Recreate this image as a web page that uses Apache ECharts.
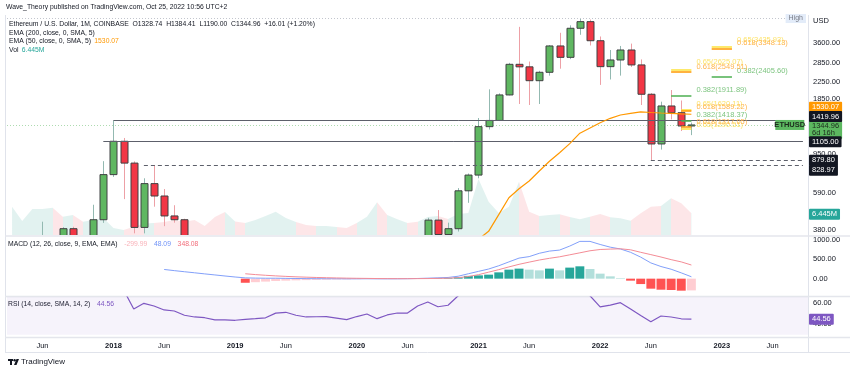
<!DOCTYPE html>
<html><head><meta charset="utf-8">
<script src="https://cdn.jsdelivr.net/npm/echarts@6/dist/echarts.min.js"></script>
<style>html,body{margin:0;padding:0;background:#fff}#c{width:850px;height:371px}</style>
</head><body><div id="c"></div>
<script>
// ---------- data (monthly, Mar 2017 .. Oct 2022) ----------
const months = [];
for (let i = 0; i < 79; i++) { const t = 2 + i; const y = 2017 + Math.floor(t / 12); const m = t % 12 + 1; months.push(y + '-' + (m < 10 ? '0' : '') + m); }
const lastCat = months[months.length - 1];

const open = [16.0,50.0,79.5,230.0,293.0,200.0,386.0,302.0,305.0,430.0,
 740.0,1105.0,850.0,392.0,664.0,572.0,450.0,430.0,282.0,232.0,
 198.0,113.0,131.0,107.0,136.0,141.0,163.0,269.0,291.0,218.0,
 172.0,180.0,183.0,152.0,130.0,180.0,218.0,133.0,206.0,231.0,
 226.0,345.0,428.0,360.0,386.0,609.0,736.0,1318.0,1420.0,1930.0,
 2790.0,2707.0,2291.0,2535.0,3480.0,3035.0,4305.0,4663.0,3706.0,2713.0,
 2940.0,3315.0,2770.0,1946.0,1070.0,1690.0,1559.0,1328.74];
const high = [55.0,80.0,230.0,420.0,300.0,393.0,395.0,350.0,515.0,870.0,
 1419.96,1150.0,868.0,708.0,831.0,622.0,512.0,435.0,300.0,233.0,
 225.0,160.0,160.0,166.0,146.0,184.0,280.0,350.0,320.0,240.0,
 225.0,198.0,195.0,153.0,185.0,290.0,253.0,227.0,245.0,255.0,
 347.0,440.0,483.0,415.0,629.0,750.0,1462.0,2065.0,1968.0,2840.0,
 4380.0,2885.0,2580.0,3520.0,4078.0,4460.0,4870.0,4780.0,3900.0,3315.0,
 3480.0,3580.0,2960.0,1975.0,1780.0,2048.0,1805.0,1384.41];
const low = [15.5,46.0,76.0,153.0,130.0,185.0,200.0,284.0,285.0,414.0,
 720.0,551.0,365.0,365.0,503.0,398.0,415.0,250.0,167.0,188.0,
 103.0,82.0,101.0,102.0,129.0,139.0,157.0,230.0,190.0,166.0,
 153.0,152.0,137.0,117.0,127.0,179.0,90.0,127.0,176.0,216.0,
 225.0,335.0,308.0,335.0,373.0,527.0,708.0,1273.0,1410.0,1920.0,
 1731.0,1710.0,1731.0,2435.0,2647.0,2970.0,3980.0,3500.0,2178.0,2325.0,
 2435.0,2700.0,1710.0,879.8,1000.0,1438.0,1250.0,1190.0];
const close = [50.0,79.5,230.0,293.0,200.0,386.0,302.0,305.0,430.0,740.0,
 1105.0,850.0,392.0,664.0,572.0,450.0,430.0,282.0,232.0,198.0,
 113.0,131.0,107.0,136.0,141.0,163.0,269.0,291.0,218.0,172.0,
 180.0,183.0,152.0,130.0,180.0,218.0,133.0,206.0,231.0,226.0,
 345.0,428.0,360.0,386.0,609.0,736.0,1318.0,1420.0,1930.0,2790.0,
 2707.0,2291.0,2535.0,3480.0,3035.0,4305.0,4663.0,3706.0,2713.0,2940.0,
 3315.0,2770.0,1946.0,1070.0,1690.0,1559.0,1328.74,1344.96];
const volume = [8.41,4.16,7.72,7.72,8.11,5.44,5.94,3.95,4.46,5.05,
 2.08,1.49,2.47,3.42,3.56,3.86,4.46,3.95,4.46,2.67,
 5.35,6.83,4.01,3.56,4.46,5.64,6.92,5.05,3.86,2.97,
 2.67,2.67,2.38,2.08,3.56,5.44,9.71,5.94,4.66,3.56,
 3.95,5.35,5.64,4.75,6.24,6.53,16.63,9.89,6.53,8.41,
 15.83,6.92,5.64,5.94,6.15,5.35,4.66,5.44,6.24,5.26,
 4.96,4.25,6.44,8.41,8.61,10.90,9.41,6.445];
const N = null;
const ema50 = [N,N,N,N,N,N,N,N,N,N, N,N,N,N,N,N,N,N,N,N, N,N,N,N,N,N,N,N,N,N, N,N,N,N,N,N,N,N,N,N,
 240,255,268,280,300,318,340,374,457,560,
 624,685,773,869,963,1074,1218,1297,1382,1457,
 1516,1547,1576,1563,1553,1547,1538,1530.07];
const macd = [N,N,N,N,N,N,N,N,N,N,N,N,N,N,N,
 235,205,177,150,122,95,68,42,20,14,
 11,11,7,4,1,-1,-2,-3,-5,-4,
 -3,-5,-5,-4,-1.5,4,12,21,30,62,
 125,186,246,330,428,525,563,648,704,730,
 832,952,952,873,804,758,673,550,402,310,
 241,148,48.09];
const signal = [N,N,N,N,N,N,N,N,N,N,N,N,N,N,N,N,N,N,N,N,N,N,N,
 125,104,
 86,71,58,47,38,30,24,18,13,9,
 6,3,1,0,0,1,3,7,12,25,
 55,102,166,230,300,366,422,476,520,558,
 609,660,712,745,755,763,737,673,614,553,
 486,428,348.08];
const hist = [N,N,N,N,N,N,N,N,N,N,N,N,N,N,N,N,N,N,N,N,N,N,N,
 -105,-90,
 -75,-60,-51,-43,-37,-31,-26,-21,-18,-13,
 -9,-8,-6,-4,-1.5,3,9,14,18,37,
 70,84,102,161,230,256,230,212,256,212,
 282,315,246,128,59,15,-51,-138,-256,-282,
 -290,-307,-299.99];
const rsi = [92,94,96,95,88,90,85,84,86,89,
 90,72,54.1,59.4,56.9,53.2,52.2,48.2,46.6,45.9,
 43.8,43.8,43.5,44.4,45.0,45.8,50.2,51.0,48.2,46.6,
 46.8,46.9,45.5,44.1,47.0,49.4,45.0,48.5,50.3,50.3,
 56.9,60.7,56.2,57.6,66.5,72,80,80,84,87,
 85,80,81,84,80,84,85,66.5,56,57.8,
 60,54.1,48,42.2,47.5,46.6,44.9,44.56];
const priceTicks = [380, 590, 950, 1850, 2250, 2850, 3600];
const macdTicks = [0, 500, 1000];
const rsiTicks = [40, 60];

// ---------- styles ----------
const F = '"Liberation Sans", Arial, sans-serif';
const TXT = '#131722';
const UP = '#5fb761', DN = '#f23645', BORDER = '#3f4142', UPW = '#93b9b1', DNW = '#eda0a6';
const L = 7, R = 42;
const LF = 6.8; // legend font size

const candleData = open.map((o, i) => [i, o, close[i], low[i], high[i]]);
const volPieces = volume.map((v, i) => ({ gte: i - 0.5, lt: i + 0.5, color: close[i] >= open[i] ? '#e2f2f0' : '#fde6e8' }));
const histData = hist.map((v, i) => {
  if (v == null) return null;
  const p = i > 0 ? hist[i - 1] : null;
  let c;
  if (v >= 0) c = (p != null && p > v) ? '#b2dfdb' : '#26a69a';
  else c = (p != null && p < v) ? '#ffcdd2' : '#ff5252';
  return { value: v, itemStyle: { color: c } };
});

function renderCandle(params, api) {
  const i = api.value(0), o = api.value(1), c = api.value(2), l = api.value(3), h = api.value(4);
  const pO = api.coord([i, o]), pC = api.coord([i, c]), pL = api.coord([i, l]), pH = api.coord([i, h]);
  const xc = Math.round(pO[0]);
  const up = c >= o;
  const top = Math.min(pO[1], pC[1]), bot = Math.max(pO[1], pC[1]);
  return { type: 'group', children: [
    { type: 'line', shape: { x1: xc + 0.5, y1: pH[1], x2: xc + 0.5, y2: pL[1] }, style: { stroke: up ? UPW : DNW, lineWidth: 1 } },
    { type: 'rect', shape: { x: xc - 3, y: top, width: 7, height: Math.max(bot - top, 1) }, style: { fill: up ? UP : DN, stroke: BORDER, lineWidth: 1 } }
  ] };
}

function box(text, bg, fg, dy, extra) {
  return Object.assign({ show: true, position: 'end', distance: 1, formatter: text, backgroundColor: bg, color: fg, opacity: 1,
    fontSize: 7.5, fontFamily: F, padding: [2, 3, 1, 3], lineHeight: 8, offset: [0, dy], borderRadius: 1 }, extra || {});
}
function hidden(v, lbl) { return { yAxis: v, lineStyle: { color: 'rgba(0,0,0,0)', width: 0 }, label: lbl }; }
function seg(c0, c1, v, color, type, width) {
  return [{ coord: [c0, v], lineStyle: { color: color, type: type, width: width } }, { coord: [c1, v] }];
}
function fib(c0, c1, v, color, txt, tcolor, dy) {
  return [{ coord: [c0, v], lineStyle: { color: color, type: 'solid', width: 1.5 },
    label: { show: true, position: 'end', distance: 5, formatter: txt, color: tcolor, fontSize: 7.5, fontFamily: F, offset: [0, dy] } },
    { coord: [c1, v] }];
}
const ML = (data) => ({ silent: true, symbol: ['none', 'none'], label: { show: false }, data: data });

const gridBase = { left: L, right: R, outerBoundsMode: 'none', containLabel: false };
const xBase = (i, show) => ({
  type: 'category', gridIndex: i, data: months, boundaryGap: true, show: true,
  axisLine: { show: false }, axisTick: { show: false }, splitLine: { show: false },
  axisLabel: show ? {
    show: true, margin: 5, fontSize: 7.5, fontFamily: F, color: TXT,
    interval: (idx, val) => val.endsWith('-01') || val.endsWith('-06'),
    formatter: (val) => val.endsWith('-01') ? '{b|' + val.slice(0, 4) + '}' : 'Jun',
    rich: { b: { fontWeight: 'bold', fontSize: 7.5, fontFamily: F, color: TXT } }
  } : { show: false }
});
const yLab = (vals) => ({ show: true, customValues: vals, margin: 5, fontSize: 7.5, fontFamily: F, color: TXT, formatter: v => Number(v).toFixed(2) });

const option = {
  animation: false,
  backgroundColor: '#ffffff',
  grid: [
    Object.assign({ top: 15, height: 220 }, gridBase),
    Object.assign({ top: 165, height: 70 }, gridBase),
    Object.assign({ top: 237, height: 59 }, gridBase),
    Object.assign({ top: 297, height: 40 }, gridBase)
  ],
  xAxis: [xBase(0, false), xBase(1, false), xBase(2, false), xBase(3, true)],
  yAxis: [
    { type: 'log', logBase: 10, gridIndex: 0, position: 'right', min: 357.8, max: 5051,
      axisLine: { show: false }, axisTick: { show: false }, splitLine: { show: false }, axisLabel: yLab(priceTicks) },
    { type: 'value', gridIndex: 1, min: 0, max: 20.8, show: false, splitLine: { show: false } },
    { type: 'value', gridIndex: 2, position: 'right', min: -443, max: 1064,
      axisLine: { show: false }, axisTick: { show: false }, splitLine: { show: false }, axisLabel: yLab(macdTicks) },
    { type: 'value', gridIndex: 3, position: 'right', min: 27.8, max: 65.35,
      axisLine: { show: false }, axisTick: { show: false }, splitLine: { show: false }, axisLabel: yLab(rsiTicks) }
  ],
  visualMap: [{ type: 'piecewise', show: false, seriesIndex: 0, dimension: 0, pieces: volPieces, outOfRange: { color: '#e2f2f0' } }],
  series: [
    { name: 'Vol', type: 'line', xAxisIndex: 1, yAxisIndex: 1, data: volume, symbol: 'none', z: 1,
      lineStyle: { width: 0 }, areaStyle: { opacity: 1 } },
    { name: 'ETHUSD', type: 'custom', xAxisIndex: 0, yAxisIndex: 0, data: candleData, renderItem: renderCandle, z: 3, clip: true,
      encode: { x: 0, y: [1, 2, 3, 4] } },
    { name: 'EMA50', type: 'line', xAxisIndex: 0, yAxisIndex: 0, data: ema50, symbol: 'none', z: 5, clip: true,
      lineStyle: { color: '#ff9800', width: 1.2 } },
    { name: 'Hist', type: 'bar', xAxisIndex: 2, yAxisIndex: 2, data: histData, barWidth: '88%', z: 2 },
    { name: 'MACD', type: 'line', xAxisIndex: 2, yAxisIndex: 2, data: macd, symbol: 'none', z: 3, lineStyle: { color: '#82a0fa', width: 1 } },
    { name: 'Signal', type: 'line', xAxisIndex: 2, yAxisIndex: 2, data: signal, symbol: 'none', z: 3, lineStyle: { color: '#f48c96', width: 1 } },
    { name: 'RSI', type: 'line', xAxisIndex: 3, yAxisIndex: 3, data: rsi, symbol: 'none', z: 3, clip: true,
      lineStyle: { color: '#7e57c2', width: 1.2 },
      markArea: { silent: true, itemStyle: { color: 'rgba(126,87,194,0.07)' }, data: [[{ yAxis: 30 }, { yAxis: 70 }]] } },
    { name: 'levels', type: 'line', xAxisIndex: 0, yAxisIndex: 0, data: [], clip: false, z: 6,
      markPoint: { silent: true, data: [{ coord: ['2023-08', 1344.96], symbol: 'rect', symbolSize: [29, 10], symbolOffset: [-3, 0],
        itemStyle: { color: '#5cb860' }, label: { show: true, formatter: 'ETHUSD', color: '#1b2a1c', fontSize: 7.5, fontFamily: F, fontWeight: 'bold' } }] },
      markLine: ML([
        seg('2018-01', lastCat, 1419.96, '#5d606b', 'solid', 1),
        seg('2017-12', lastCat, 1105, '#5d606b', 'solid', 1),
        seg('2018-04', lastCat, 828.97, '#5d606b', [4, 3], 1),
        seg('2022-06', lastCat, 879.8, '#5d606b', [4, 3], 1),
        { yAxis: 4870, lineStyle: { color: '#c3c6ce', type: [1, 2], width: 1 },
          label: { show: true, position: 'insideEndBottom', distance: 0, formatter: 'High', color: '#787b86', fontSize: 7, fontFamily: F,
            backgroundColor: '#e3ecf9', padding: [1, 3, 1, 3], offset: [-2, -4] } },
        { yAxis: 1344.96, lineStyle: { color: 'rgba(76,175,80,0.45)', type: [1, 2], width: 1 } },
        fib('2022-12', '2023-02', 3435.93, '#fde23a', '0.65(3435.93)', '#fde36a', -7),
        fib('2022-12', '2023-02', 3348.13, '#ff9800', '0.618(3348.13)', '#ffb44d', -6),
        fib('2022-12', '2023-02', 2405.60, '#4caf50', '0.382(2405.60)', '#7cc47f', -6),
        fib('2022-08', '2022-10', 2625.07, '#fde23a', '0.65(2625.07)', '#fde36a', -7),
        fib('2022-08', '2022-10', 2549.51, '#ff9800', '0.618(2549.51)', '#ffb44d', -5),
        fib('2022-08', '2022-10', 1911.89, '#4caf50', '0.382(1911.89)', '#7cc47f', -6),
        fib('2022-09', '2022-10', 1620.11, '#fde23a', '0.65(1620.11)', '#fde36a', -6),
        fib('2022-09', '2022-10', 1589.22, '#ff9800', '0.618(1589.22)', '#ffb44d', -4.5),
        fib('2022-09', '2022-10', 1418.37, '#4caf50', '0.382(1418.37)', '#7cc47f', -5.5),
        fib('2022-09', '2022-10', 1290.51, '#fde23a', '0.65(1290.51)', '#fde36a', -3),
        fib('2022-09', '2022-10', 1317.05, '#ff9800', '0.618(1317.05)', '#ffb44d', -5),
        hidden(1344.96, box('1344.96\n6d 16h', '#5cb860', '#1b2a1c', 4.5, { lineHeight: 7.7, padding: [2, 3, 2, 3] })),
        hidden(1530.07, box('1530.07', '#ff9800', '#ffffff', -7)),
        hidden(1419.96, box('1419.96', '#131722', '#ffffff', -4)),
        hidden(1105, box('1105.00', '#131722', '#ffffff', 0.5)),
        hidden(879.8, box('879.80', '#131722', '#ffffff', 0)),
        hidden(828.97, box('828.97', '#131722', '#ffffff', 5))
      ]) },
    { name: 'volLevel', type: 'line', xAxisIndex: 1, yAxisIndex: 1, data: [], clip: false, z: 6,
      markLine: ML([hidden(6.445, box('6.445M', '#26a69a', '#ffffff', 1))]) },
    { name: 'rsiLevel', type: 'line', xAxisIndex: 3, yAxisIndex: 3, data: [], clip: false, z: 6,
      markLine: ML([hidden(44.56, box('44.56', '#7e57c2', '#ffffff', 0))]) }
  ],
  graphic: [
    { type: 'line', silent: true, shape: { x1: 5.5, y1: 15, x2: 5.5, y2: 352 }, style: { stroke: '#e0e3eb', lineWidth: 1 } },
    { type: 'line', silent: true, shape: { x1: 808.5, y1: 15, x2: 808.5, y2: 352 }, style: { stroke: '#e0e3eb', lineWidth: 1 } },
    { type: 'line', silent: true, shape: { x1: 5, y1: 236, x2: 850, y2: 236 }, style: { stroke: '#e4e6ec', lineWidth: 1.5 } },
    { type: 'line', silent: true, shape: { x1: 5, y1: 296.5, x2: 850, y2: 296.5 }, style: { stroke: '#e4e6ec', lineWidth: 1.5 } },
    { type: 'line', silent: true, shape: { x1: 5, y1: 337.5, x2: 850, y2: 337.5 }, style: { stroke: '#e4e6ec', lineWidth: 1.5 } },
    { type: 'line', silent: true, shape: { x1: 5, y1: 352.5, x2: 850, y2: 352.5 }, style: { stroke: '#e0e3eb', lineWidth: 1 } },
    { type: 'text', silent: true, x: 6, y: 7.5, style: { text: 'Wave_Theory published on TradingView.com, Oct 25, 2022 10:56 UTC+2', fill: TXT, fontSize: LF, fontFamily: F, verticalAlign: 'middle', textVerticalAlign: 'middle' } },
    { type: 'text', silent: true, x: 9, y: 24.5, style: { text: 'Ethereum / U.S. Dollar, 1M, COINBASE  O1328.74  H1384.41  L1190.00  C1344.96  +16.01 (+1.20%)', fill: TXT, fontSize: LF, fontFamily: F, verticalAlign: 'middle', textVerticalAlign: 'middle' } },
    { type: 'text', silent: true, x: 9, y: 33, style: { text: 'EMA (200, close, 0, SMA, 5)', fill: TXT, fontSize: LF, fontFamily: F, verticalAlign: 'middle', textVerticalAlign: 'middle' } },
    { type: 'text', silent: true, x: 9, y: 41.5, style: { text: '{a|EMA (50, close, 0, SMA, 5)} {o|1530.07}', verticalAlign: 'middle', textVerticalAlign: 'middle',
      rich: { a: { fill: TXT, color: TXT, fontSize: LF, fontFamily: F }, o: { fill: '#ff9800', color: '#ff9800', fontSize: LF, fontFamily: F } } } },
    { type: 'text', silent: true, x: 9, y: 50, style: { text: '{a|Vol} {o|6.445M}', verticalAlign: 'middle', textVerticalAlign: 'middle',
      rich: { a: { fill: TXT, color: TXT, fontSize: LF, fontFamily: F }, o: { fill: '#26a69a', color: '#26a69a', fontSize: LF, fontFamily: F } } } },
    { type: 'text', silent: true, x: 813, y: 21, style: { text: 'USD', fill: TXT, fontSize: 7.5, fontFamily: F, verticalAlign: 'middle', textVerticalAlign: 'middle' } },
    { type: 'text', silent: true, x: 8, y: 244, style: { text: '{a|MACD (12, 26, close, 9, EMA, EMA)}  {h|-299.99}  {m|48.09}  {s|348.08}', verticalAlign: 'middle', textVerticalAlign: 'middle',
      rich: { a: { fill: TXT, color: TXT, fontSize: LF, fontFamily: F }, h: { fill: '#f9b3ba', color: '#f9b3ba', fontSize: LF, fontFamily: F },
        m: { fill: '#6f92f7', color: '#6f92f7', fontSize: LF, fontFamily: F }, s: { fill: '#f26d7a', color: '#f26d7a', fontSize: LF, fontFamily: F } } } },
    { type: 'text', silent: true, x: 8, y: 304, style: { text: '{a|RSI (14, close, SMA, 14, 2)}  {r|44.56}', verticalAlign: 'middle', textVerticalAlign: 'middle',
      rich: { a: { fill: TXT, color: TXT, fontSize: LF, fontFamily: F }, r: { fill: '#7e57c2', color: '#7e57c2', fontSize: LF, fontFamily: F } } } },
    { type: 'rect', silent: true, shape: { x: 8, y: 359, width: 5, height: 2 }, style: { fill: '#131722' } },
    { type: 'rect', silent: true, shape: { x: 10, y: 359, width: 2, height: 6 }, style: { fill: '#131722' } },
    { type: 'circle', silent: true, shape: { cx: 14.6, cy: 360.2, r: 1.2 }, style: { fill: '#131722' } },
    { type: 'polygon', silent: true, shape: { points: [[16.5, 359], [19, 359], [16.5, 365], [14, 365]] }, style: { fill: '#131722' } },
    { type: 'text', silent: true, x: 21, y: 362, style: { text: 'TradingView', fill: TXT, fontSize: 8, fontFamily: F, verticalAlign: 'middle', textVerticalAlign: 'middle' } }
  ]
};
const chart = echarts.init(document.getElementById('c'));
chart.setOption(option);
</script>
</body></html>
